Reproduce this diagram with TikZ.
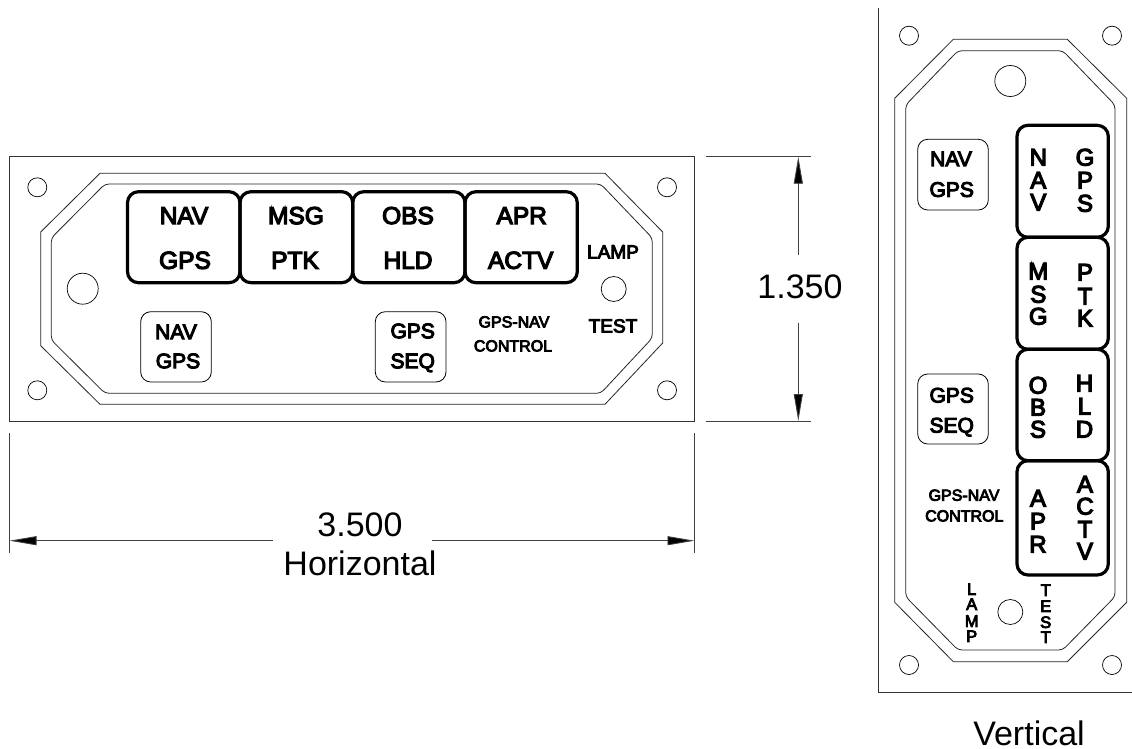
\documentclass[tikz,border=0pt]{standalone}
\usepackage{fontspec}
\setmainfont{Liberation Sans}
\newfontfamily\smear[FakeBold=5]{Liberation Sans}
\usetikzlibrary{arrows.meta}
\tikzset{
  lab/.style={font=\smear\fontsize{#1}{#1}\selectfont,text height=0.716*#1 pt,text depth=0pt,inner sep=0pt,text=black},
  dimtext/.style={font=\fontsize{34}{34}\selectfont,text height=24.3pt,text depth=0pt,inner sep=0pt,text=black},
  thin line/.style={draw=black!85,line width=0.8pt,line join=miter},
  panel/.style={draw=black!80,line width=1pt},
  btn/.style={draw=black,line width=3.2pt,rounded corners=11pt},
  smallbtn/.style={draw=black,line width=0.8pt,rounded corners=10pt},
  hole/.style={draw=black,line width=0.7pt},
  dimline/.style={draw=black!75,line width=0.9pt},
  dimarrow/.style={dimline,-{Triangle[length=27pt,width=9pt,fill=black]}},
}
\newcommand{\stk}[4]{\foreach \c/\yy [count=\k] in {#4} {\node[lab=#3] (#1\k) at (#2,\yy) {\c};}}
\begin{document}
\begin{tikzpicture}[x=1pt,y=-1pt]
\useasboundingbox[fill=white] (0,0) rectangle (1132,749);
% ---------- Horizontal panel
\draw[panel] (9.5,156.7) rectangle (694.5,421);
\draw[thin line] (100,173.3) -- (605,173.3) -- (662.7,232) -- (662.7,343) -- (605,404.3) -- (100,404.3) -- (40.7,345.7) -- (40.7,232) -- cycle;
\draw[thin line,rounded corners=4pt] (105,184) -- (600.7,184) -- (652.3,238) -- (652.3,338) -- (600.7,393.3) -- (105,393.3) -- (51.3,340) -- (51.3,238) -- cycle;
\draw[hole] (37.3,187.3) circle (9.5);
\draw[hole] (37.3,390.3) circle (9.5);
\draw[hole] (667,187.3) circle (9.5);
\draw[hole] (667,390.3) circle (9.5);
\draw[hole] (82.7,288.7) circle (15.5);
\draw[hole] (613.7,289) circle (12.5);
\draw[btn] (127.5,191.7) rectangle (240,282.7);
\draw[btn] (240,191.7) rectangle (352.7,282.7);
\draw[btn] (352.7,191.7) rectangle (465,282.7);
\draw[btn] (465,191.7) rectangle (577.3,282.7);
\draw[smallbtn] (140.7,311.7) rectangle (211.3,382);
\draw[smallbtn] (375.3,311.7) rectangle (446,382);
\node[lab=24.5] (hnav) at (184,215.3) {NAV};
\node[lab=24.5] (hgps) at (185,260) {GPS};
\node[lab=24.5] (hmsg) at (296,215.3) {MSG};
\node[lab=24.5] (hptk) at (295,260) {PTK};
\node[lab=24.5] (hobs) at (408,215.3) {OBS};
\node[lab=24.5] (hhld) at (408,260) {HLD};
\node[lab=24.5] (hapr) at (521.7,215.3) {APR};
\node[lab=24.5] (hactv) at (520.7,260) {ACTV};
\node[lab=21] (hsnav) at (176,331.7) {NAV};
\node[lab=21] (hsgps) at (178,360.7) {GPS};
\node[lab=21] (hsgps2) at (412.7,330.7) {GPS};
\node[lab=21] (hsseq) at (412.7,360.7) {SEQ};
\node[lab=16] (hgpsnav) at (514,321.7) {GPS-NAV};
\node[lab=16] (hcontrol) at (513,345.7) {CONTROL};
\node[lab=19] (hlamp) at (613,251.7) {LAMP};
\node[lab=19] (htest) at (613,325.7) {TEST};
% ---------- Dimensions
\coordinate (vt0) at (706,156.7); \coordinate (vt1) at (810.7,156.7);
\coordinate (vb0) at (706,421); \coordinate (vb1) at (810.7,421);
\coordinate (vtip1) at (798.3,156.7); \coordinate (vgap1) at (798.3,255);
\coordinate (vtip2) at (798.3,421); \coordinate (vgap2) at (798.3,322.7);
\draw[dimline] (vt0) -- (vt1);
\draw[dimline] (vb0) -- (vb1);
\draw[dimarrow] (vgap1) -- (vtip1);
\draw[dimarrow] (vgap2) -- (vtip2);
\node[dimtext] (d135) at (800,286.7) {1.350};
\coordinate (he1a) at (9.5,433); \coordinate (he1b) at (9.5,553);
\coordinate (he2a) at (694.5,433); \coordinate (he2b) at (694.5,553);
\coordinate (hgap1) at (272.7,540.7); \coordinate (hgap2) at (431.7,540.7);
\coordinate (htip1) at (9.5,540.7); \coordinate (htip2) at (694.5,540.7);
\draw[dimline] (he1a) -- (he1b);
\draw[dimline] (he2a) -- (he2b);
\draw[dimarrow] (hgap1) -- (htip1);
\draw[dimarrow] (hgap2) -- (htip2);
\node[dimtext] (d350) at (360,524.7) {3.500};
\node[dimtext] (horiz) at (360,563.5) {Horizontal};
% ---------- Vertical panel
\draw[panel] (878,8) -- (878,692) -- (1132,692);
\draw[thin line] (953.3,39.3) -- (1067.3,39.3) -- (1126.7,98.3) -- (1126.7,602.3) -- (1067.3,661.7) -- (953.3,661.7) -- (894.7,602.3) -- (894.7,98.3) -- cycle;
\draw[thin line,rounded corners=4pt] (958,50.7) -- (1062.7,50.7) -- (1115,105) -- (1115,596.7) -- (1062.7,650) -- (958,650) -- (905.7,596.7) -- (905.7,105) -- cycle;
\draw[hole] (909,35.7) circle (9.5);
\draw[hole] (1112,35.7) circle (9.5);
\draw[hole] (909,665) circle (9.5);
\draw[hole] (1112,665) circle (9.5);
\draw[hole] (1010.3,81) circle (15.5);
\draw[hole] (1010.3,612) circle (12.5);
\draw[btn] (1017,125.3) rectangle (1108.3,237.3);
\draw[btn] (1017,237.3) rectangle (1108.3,349.3);
\draw[btn] (1017,349.3) rectangle (1108.3,460.7);
\draw[btn] (1017,460.7) rectangle (1108.3,575);
\draw[smallbtn] (917.7,139.3) rectangle (988.3,210);
\draw[smallbtn] (917.7,374) rectangle (988.3,444);
\node[lab=21] (vsnav) at (951,158.7) {NAV};
\node[lab=21] (vsgps) at (951.7,189.3) {GPS};
\node[lab=21] (vsgps2) at (951.7,395) {GPS};
\node[lab=21] (vsseq) at (951.7,425) {SEQ};
\node[lab=16] (vgpsnav) at (964,495) {GPS-NAV};
\node[lab=16] (vcontrol) at (964.3,515.7) {CONTROL};
\stk{vnav}{1038.3}{24}{N/157,A/180,V/202}
\stk{vgps}{1085}{24}{G/157,P/180,S/203}
\stk{vmsg}{1038.3}{24}{M/271,S/294,G/316}
\stk{vptk}{1085}{24}{P/272,T/296,K/318}
\stk{vobs}{1038}{24}{O/385,B/407,S/429}
\stk{vhld}{1084.5}{24}{H/383,L/406,D/429}
\stk{vapr}{1038}{24}{A/498,P/521,R/544}
\stk{vactv}{1085}{24}{A/484,C/506,T/529,V/551}
\stk{vlamp}{971.7}{16.5}{L/589,A/604,M/621,P/636}
\stk{vtest}{1045.7}{16.5}{T/590,E/606,S/622,T/637}
\node[dimtext] (vert) at (1029,733.5) {Vertical};
\end{tikzpicture}
\end{document}
